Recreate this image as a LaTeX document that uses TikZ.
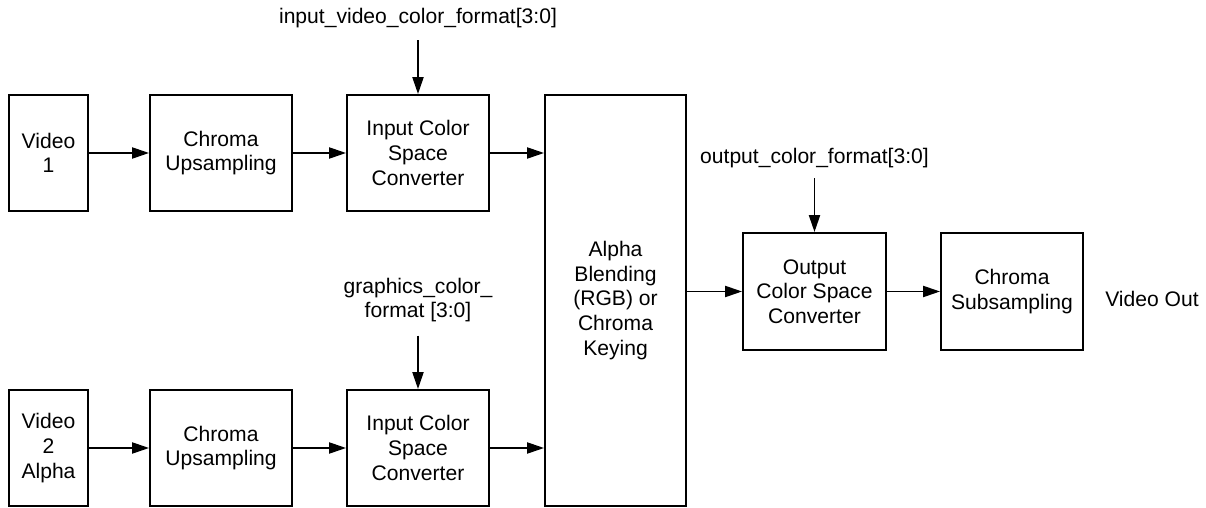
\documentclass[tikz,border=0pt]{standalone}
\usepackage{fontspec}
\setmainfont{Liberation Sans}
\usetikzlibrary{arrows.meta}

\begin{document}
\begin{tikzpicture}[font=\fontsize{15}{17.5}\selectfont,
blk/.style={draw,line width=1.5pt,align=center,inner sep=0pt,minimum width=3.55cm,minimum height=2.9cm},
lbl/.style={align=center,inner sep=0pt},
arr/.style={-{Triangle[length=0.42cm,width=0.28cm]},line width=0.9pt}]
\useasboundingbox (0,0) rectangle (30.15,12.7);
\node[blk,minimum width=1.975cm] (vid1) at (1.2125,8.875) {Video\\1};
\node[blk] (up1) at (5.525,8.875) {Chroma\\Upsampling};
\node[blk] (csc1) at (10.45,8.875) {Input Color\\Space\\Converter};
\node[blk,minimum width=1.975cm] (vid2) at (1.2125,1.5) {Video\\2\\Alpha};
\node[blk] (up2) at (5.525,1.5) {Chroma\\Upsampling};
\node[blk] (csc2) at (10.45,1.5) {Input Color\\Space\\Converter};
\node[blk,minimum width=3.525cm,minimum height=10.275cm] (blend) at (15.3875,5.1875) {Alpha\\Blending\\(RGB) or\\Chroma\\Keying};
\node[blk,minimum width=3.575cm,minimum height=2.925cm] (outcsc) at (20.3625,5.4125) {Output\\Color Space\\Converter};
\node[blk,minimum height=2.925cm] (sub) at (25.3,5.4125) {Chroma\\Subsampling};
\node[lbl] (vidout) at (28.8,5.225) {Video Out};
\node[lbl] (fmt1) at (10.45,12.25) {input\_video\_color\_format[3:0]};
\node[lbl] (fmt2) at (10.45,5.2) {graphics\_color\_\\format [3:0]};
\node[lbl] (fmt3) at (20.3625,8.75) {output\_color\_format[3:0]};
\draw[arr] (vid1) -- (up1);
\draw[arr] (up1) -- (csc1);
\draw[arr] (csc1) -- (csc1 -| blend.west);
\draw[arr] (vid2) -- (up2);
\draw[arr] (up2) -- (csc2);
\draw[arr] (csc2) -- (csc2 -| blend.west);
\draw[arr] (blend.east |- outcsc) -- (outcsc);
\draw[arr] (outcsc) -- (sub);
\draw[arr,shorten <=0.3cm] (fmt1) -- (csc1);
\draw[arr,shorten <=0.33cm] (fmt2) -- (csc2);
\draw[arr,shorten <=0.25cm] (fmt3) -- (outcsc);
\end{tikzpicture}
\end{document}
